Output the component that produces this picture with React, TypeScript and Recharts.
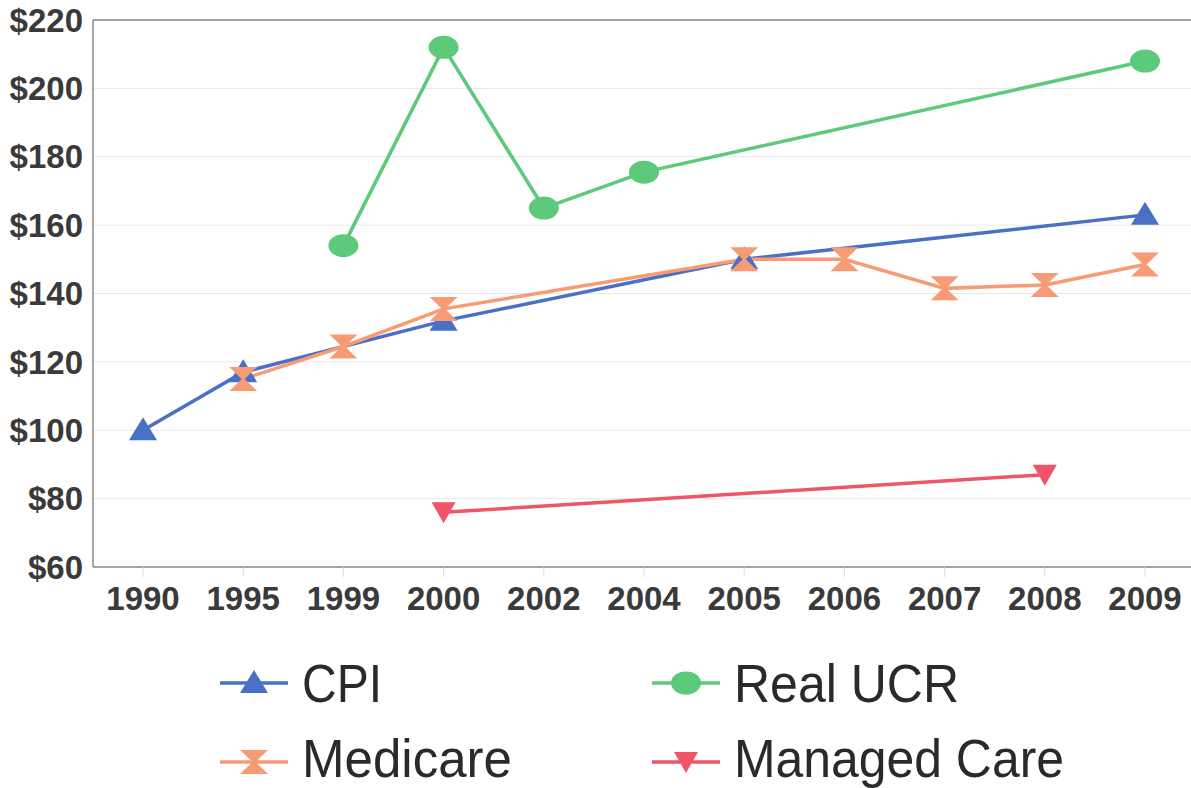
import React from "react";
import {
  CartesianGrid,
  Line,
  LineChart,
  ReferenceLine,
  XAxis,
  YAxis,
} from "recharts";

const years = ["1990", "1995", "1999", "2000", "2002", "2004", "2005", "2006", "2007", "2008", "2009"];
const cpi = [100, 117, null, 132, null, null, 150, null, null, null, 163];
const realUcr = [null, null, 154, 212, 165, 175.5, null, null, null, null, 208];
const medicare = [null, 115, 124.5, 135.5, null, null, 150, 150, 141.5, 142.5, 148.5];
const managedCare = [null, null, null, 76, null, null, null, null, null, 87, null];
const yTicks = [60, 80, 100, 120, 140, 160, 180, 200, 220];

const data = years.map((year, i) => ({
  year,
  cpi: cpi[i],
  realUcr: realUcr[i],
  medicare: medicare[i],
  managedCare: managedCare[i],
}));

const BLUE = "#4a70c6";
const GREEN = "#5cc97b";
const ORANGE = "#f79b74";
const RED = "#ef5468";
const TEXT = "#3a3a3a";
const FONT = '"Liberation Sans", Arial, sans-serif';

type Marker = "up" | "circle" | "hourglass" | "down";

function markerShape(kind: Marker, cx: number, cy: number, fill: string) {
  if (kind === "up")
    return <path d={`M${cx},${cy - 13} L${cx + 14},${cy + 10} L${cx - 14},${cy + 10} Z`} fill={fill} />;
  if (kind === "down")
    return <path d={`M${cx - 12},${cy - 10} L${cx + 12},${cy - 10} L${cx},${cy + 11} Z`} fill={fill} />;
  if (kind === "circle") return <ellipse cx={cx} cy={cy} rx={15} ry={11.5} fill={fill} />;
  return (
    <path
      d={`M${cx - 14},${cy - 12} L${cx + 14},${cy - 12} L${cx + 1.5},${cy} L${cx + 14},${cy + 12} L${cx - 14},${cy + 12} L${cx - 1.5},${cy} Z`}
      fill={fill}
    />
  );
}

const makeDot = (kind: Marker, fill: string) => (props: any) => {
  const { cx, cy, value, index } = props;
  if (value == null || cy == null || isNaN(cy)) return <g key={`e-${index}`} />;
  return <g key={`d-${index}`}>{markerShape(kind, cx, cy, fill)}</g>;
};

// legend laid out in two rows of two, like the source
const legendItems: { label: string; color: string; kind: Marker; x: number; y: number; base: number; w: number }[] = [
  { label: "CPI", color: BLUE, kind: "up", x: 220, y: 683, base: 702, w: 80 },
  { label: "Real UCR", color: GREEN, kind: "circle", x: 652, y: 683, base: 702, w: 225 },
  { label: "Medicare", color: ORANGE, kind: "hourglass", x: 220, y: 762, base: 777, w: 210 },
  { label: "Managed Care", color: RED, kind: "down", x: 652, y: 762, base: 777, w: 330 },
];

export default function App() {
  return (
    <div
      style={{
        position: "absolute",
        left: 0,
        top: 0,
        width: 1191,
        height: 788,
        overflow: "hidden",
        background: "#fff",
        fontFamily: FONT,
      }}
    >
      <LineChart width={1195} height={620} data={data} margin={{ top: 20, right: 0, bottom: 0, left: 0 }}>
        <CartesianGrid vertical={false} stroke="#e8e8e8" />
        <XAxis
          dataKey="year"
          height={53}
          padding={{ left: 50, right: 50 }}
          axisLine={{ stroke: "#8a8a8a", strokeWidth: 1.5 }}
          tickLine={{ stroke: "#dddddd" }}
          tickSize={10}
          tickMargin={10}
          tick={{ fill: TEXT, fontSize: 33, fontWeight: 700, fontFamily: FONT }}
          interval={0}
        />
        <YAxis
          width={93}
          domain={[60, 220]}
          ticks={yTicks}
          axisLine={{ stroke: "#8a8a8a", strokeWidth: 1.5 }}
          tickLine={false}
          tickSize={0}
          tickMargin={10}
          tickFormatter={(v) => `$${v}`}
          tick={{ fill: TEXT, fontSize: 33, fontWeight: 700, fontFamily: FONT }}
        />
        <ReferenceLine y={220} stroke="#8a8a8a" strokeWidth={1.5} />
        <Line
          dataKey="managedCare"
          stroke={RED}
          strokeWidth={3.5}
          connectNulls
          dot={makeDot("down", RED)}
          activeDot={false}
          isAnimationActive={false}
        />
        <Line
          dataKey="cpi"
          stroke={BLUE}
          strokeWidth={3.5}
          connectNulls
          dot={makeDot("up", BLUE)}
          activeDot={false}
          isAnimationActive={false}
        />
        <Line
          dataKey="medicare"
          stroke={ORANGE}
          strokeWidth={3.5}
          connectNulls
          dot={makeDot("hourglass", ORANGE)}
          activeDot={false}
          isAnimationActive={false}
        />
        <Line
          dataKey="realUcr"
          stroke={GREEN}
          strokeWidth={3.5}
          connectNulls
          dot={makeDot("circle", GREEN)}
          activeDot={false}
          isAnimationActive={false}
        />
      </LineChart>
      <svg width={1191} height={788} style={{ position: "absolute", left: 0, top: 0, pointerEvents: "none" }}>
        {legendItems.map((item) => (
          <g key={item.label}>
            <line x1={item.x} y1={item.y} x2={item.x + 68} y2={item.y} stroke={item.color} strokeWidth={3.5} />
            {markerShape(item.kind, item.x + 34, item.y, item.color)}
            <text
              x={item.x + 82}
              y={item.base}
              fontSize={53}
              fontFamily={FONT}
              fill="#2a2a2a"
              textLength={item.w}
              lengthAdjust="spacingAndGlyphs"
            >
              {item.label}
            </text>
          </g>
        ))}
      </svg>
    </div>
  );
}
